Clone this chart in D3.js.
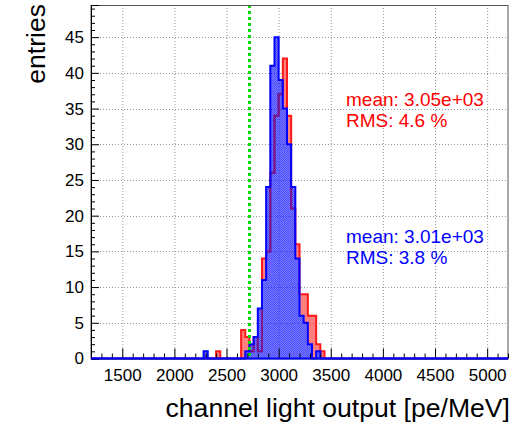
<!DOCTYPE html>
<html>
<head>
<meta charset="utf-8">
<script src="https://cdn.jsdelivr.net/npm/d3@7"></script>
<style>
  body { margin: 0; background: #fff; }
  svg { display: block; font-family: "Liberation Sans", Arial, Helvetica, sans-serif; }
</style>
</head>
<body>
<svg id="chart" width="521" height="425"></svg>
<script>
// histogram layout (ROOT style, 100 bins of 40 pe/MeV)
var xRange = [1200, 5200]
var yMax = 49.5
var binWidth = 40
var firstBin = 2280   // low edge of the first listed bin

// bin contents from 2280 to 3440
var blueCounts = [1,0,0,0,0,0,0,0,0,0, 1,2,3,7,11,24,41,45,39,35, 30,24,14,6,5,2,0,1,0,0]
var redCounts  = [0,0,0,1,0,0,0,0,0,4, 3,1,3,1,14,15,26,34,37,42, 34,21,16,9,9,6,6,2,1,0]

var xTicks = [1500, 2000, 2500, 3000, 3500, 4000, 4500, 5000]
var yTicks = [0, 5, 10, 15, 20, 25, 30, 35, 40, 45]
var cutValue = 2720

var redStats = ["mean: 3.05e+03", "RMS: 4.6 %"]
var blueStats = ["mean: 3.01e+03", "RMS: 3.8 %"]

var W = 521, H = 425
var m = {left: 91, right: 508, top: 5, bottom: 358.5}

var svg = d3.select("#chart")
var x = d3.scaleLinear().domain(xRange).range([m.left, m.right])
var y = d3.scaleLinear().domain([0, yMax]).range([m.bottom, m.top])

// full list of bins across the axis
function fullHist(counts){
  var n = Math.round((xRange[1]-xRange[0])/binWidth)
  var off = Math.round((firstBin-xRange[0])/binWidth)
  var pts = []
  for (var i = 0; i < n; i++){
    var c = (i-off >= 0 && i-off < counts.length) ? counts[i-off] : 0
    pts.push([xRange[0]+i*binWidth, c])
  }
  pts.push([xRange[1], pts[pts.length-1][1]])
  return pts
}
var bluePts = fullHist(blueCounts)
var redPts = fullHist(redCounts)

var line = d3.line().curve(d3.curveStepAfter)
  .x(function(d){ return x(d[0]) })
  .y(function(d){ return y(d[1]) })
var area = d3.area().curve(d3.curveStepAfter)
  .x(function(d){ return x(d[0]) })
  .y0(y(0))
  .y1(function(d){ return y(d[1]) })

var defs = svg.append("defs")
var pat = defs.append("pattern").attr("id", "bluefill")
  .attr("width", 2).attr("height", 2).attr("patternUnits", "userSpaceOnUse")
pat.append("rect").attr("width", 2).attr("height", 2).attr("fill", "rgba(0,0,255,0.52)")
pat.append("rect").attr("width", 1).attr("height", 1).attr("fill", "rgba(0,0,255,0.38)")
pat.append("rect").attr("x", 1).attr("y", 1).attr("width", 1).attr("height", 1).attr("fill", "rgba(0,0,255,0.38)")

// red fill is hidden where the blue histogram covers it
var mask = defs.append("mask").attr("id", "noblue")
mask.append("rect").attr("width", W).attr("height", H).attr("fill", "white")
mask.append("path").attr("d", area(bluePts)).attr("fill", "black")
defs.append("clipPath").attr("id", "inblue")
  .append("path").attr("d", area(bluePts))

// grid
var grid = svg.append("g").attr("stroke", "#999").attr("stroke-dasharray", "1,2").attr("stroke-width", 1)
grid.selectAll(".gx").data(xTicks).enter().append("line")
  .attr("x1", function(d){ return x(d)+0.5 }).attr("x2", function(d){ return x(d)+0.5 })
  .attr("y1", m.top).attr("y2", m.bottom)
grid.selectAll(".gy").data(yTicks.slice(1)).enter().append("line")
  .attr("y1", function(d){ return Math.round(y(d))+0.5 }).attr("y2", function(d){ return Math.round(y(d))+0.5 })
  .attr("x1", m.left).attr("x2", m.right)

// red histogram
svg.append("path").attr("d", area(redPts)).attr("fill", "rgba(255,0,0,0.5)").attr("mask", "url(#noblue)")
svg.append("path").attr("d", line(redPts)).attr("fill", "none").attr("stroke", "#ff1a1a").attr("stroke-width", 2)

// blue histogram
svg.append("path").attr("d", area(bluePts)).attr("fill", "url(#bluefill)")
svg.append("path").attr("d", line(redPts)).attr("fill", "none").attr("stroke", "#7a1a8a")
  .attr("stroke-width", 2).attr("clip-path", "url(#inblue)")
svg.append("path").attr("d", line(bluePts)).attr("fill", "none").attr("stroke", "#0000ff").attr("stroke-width", 2)

// cut line
svg.append("line").attr("x1", x(cutValue)).attr("x2", x(cutValue))
  .attr("y1", m.top).attr("y2", m.bottom)
  .attr("stroke", "#00dd00").attr("stroke-width", 3).attr("stroke-dasharray", "3,3")

// frame
svg.append("rect").attr("x", m.left).attr("y", m.top+0.5)
  .attr("width", m.right-m.left).attr("height", m.bottom-m.top)
  .attr("fill", "none").attr("stroke", "#555").attr("stroke-width", 1)

// axes
var xMinor = d3.range(1200, 5201, 100).filter(function(v){ return v % 500 })
var yMinor = d3.range(0, 50, 1).filter(function(v){ return v % 5 })

var xAxis = svg.append("g").attr("transform", "translate(0," + m.bottom + ")")
  .call(d3.axisBottom(x).tickValues(xTicks).tickSize(-10).tickPadding(10).tickFormat(d3.format("d")))
svg.append("g").attr("transform", "translate(0," + m.bottom + ")")
  .call(d3.axisBottom(x).tickValues(xMinor).tickSize(-5).tickFormat(""))
  .select(".domain").remove()
xAxis.select(".domain").remove()

var yAxis = svg.append("g").attr("transform", "translate(" + m.left + ",0)")
  .call(d3.axisLeft(y).tickValues(yTicks).tickSize(-8).tickPadding(7))
svg.append("g").attr("transform", "translate(" + m.left + ",0)")
  .call(d3.axisLeft(y).tickValues(yMinor).tickSize(-4).tickFormat(""))
  .select(".domain").remove()
yAxis.select(".domain").attr("stroke", "#000")

svg.selectAll(".tick line").attr("stroke", "#000")
svg.selectAll(".tick text").attr("font-size", 17).attr("fill", "#000")
  .attr("font-family", "'Liberation Sans', Arial, sans-serif")

// redraw the blue baseline over the ticks
svg.append("line").attr("x1", m.left).attr("x2", m.right).attr("y1", m.bottom).attr("y2", m.bottom)
  .attr("stroke", "#0000ff").attr("stroke-width", 2)

// titles
svg.append("text").attr("x", 510).attr("y", 417).attr("text-anchor", "end")
  .attr("font-size", 26.6).text("channel light output [pe/MeV]")
svg.append("text").attr("transform", "translate(45," + (m.top-1) + ") rotate(-90)")
  .attr("text-anchor", "end").attr("font-size", 26.6).text("entries")

// statistics
svg.selectAll(".rs").data(redStats).enter().append("text")
  .attr("x", 346).attr("y", function(d, i){ return 106 + i*21 })
  .attr("font-size", 19).attr("fill", "#ff0000").text(function(d){ return d })
svg.selectAll(".bs").data(blueStats).enter().append("text")
  .attr("x", 346).attr("y", function(d, i){ return 243 + i*21 })
  .attr("font-size", 19).attr("fill", "#0000ff").text(function(d){ return d })
</script>
</body>
</html>
